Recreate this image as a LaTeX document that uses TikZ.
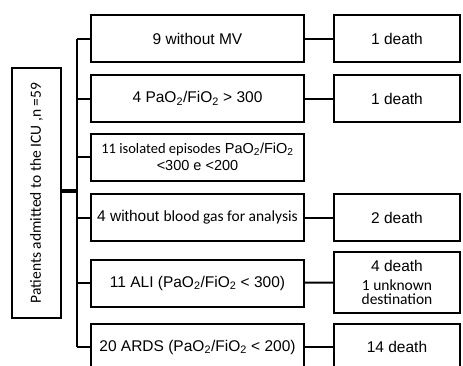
\documentclass[tikz,border=0pt]{standalone}
\usepackage{fontspec}
\setmainfont{Liberation Sans}
\newfontfamily\calib{Carlito}
\usepackage{tikz}

\begin{document}
\begin{tikzpicture}[x=1pt,y=-1pt,
    box/.style={draw,line width=2pt,minimum width=213pt,minimum height=47pt,align=center,inner sep=2pt},
    outbox/.style={draw,line width=2pt,minimum width=126pt,minimum height=47pt,align=center,inner sep=2pt},
    link/.style={line width=2pt},
    font=\fontsize{15.5}{17}\selectfont]
          \useasboundingbox (0,0) rectangle (463,365);
          \clip (0,0) rectangle (463,365);

          \node[draw,line width=2pt,minimum width=250pt,minimum height=49pt,rotate=90] (pat) at (36.5,193)
              {\calib Patients admitted to the ICU ,n =59};

          \node[box] (m1) at (197.5,38.5) {9 without MV};
          \node[box] (m2) at (197.5,98.5) {4 PaO\textsubscript{2}/FiO\textsubscript{2} > 300};
          \node[box,font=\fontsize{14.5}{17}\selectfont] (m3) at (197.5,157)
              {{\calib 11 isolated episodes} PaO\textsubscript{2}/FiO\textsubscript{2}\\ <300 e <200};
          \node[box] (m4) at (197.5,217.5) {4 without {\calib blood gas for analysis}};
          \node[box] (m5) at (197.5,283) {11 ALI (PaO\textsubscript{2}/FiO\textsubscript{2} < 300)};
          \node[box] (m6) at (197.5,347) {20 ARDS (PaO\textsubscript{2}/FiO\textsubscript{2} < 200)};

          \node[outbox] (d1) at (397,38.5) {1 death};
          \node[outbox] (d2) at (397,98.5) {1 death};
          \node[outbox] (d4) at (397,217.5) {2 death};
          \node[outbox,minimum height=61pt] (d5) at (397,282.5) {4 death\\[2pt] {\calib 1 unknown}\\[-3pt] {\calib destination}};
          \node[outbox] (d6) at (397,347) {14 death};

          % spine of the tree
          \coordinate (spine) at (77,0);
          \coordinate (joint) at (77,191);
          \draw[link] (m1.west -| spine) -- (m6.west -| spine);
          \draw[line width=4.5pt] (joint -| pat.south) -- (joint);

          \draw[link] (m1.west -| spine) -- (m1.west);
          \draw[link] (m2.west -| spine) -- (m2.west);
          \draw[link] (m3.west -| spine) -- (m3.west);
          \draw[link] (m4.west -| spine) -- (m4.west);
          \draw[link] (m5.west -| spine) -- (m5.west);
          \draw[link] (m6.west -| spine) -- (m6.west);

          \draw[link] (m1) -- (d1);
          \draw[link] (m2) -- (d2);
          \draw[link] (m4) -- (d4);
          \draw[link] (m5) -- (d5);
          \draw[link] (m6) -- (d6);
        \end{tikzpicture}
\end{document}
